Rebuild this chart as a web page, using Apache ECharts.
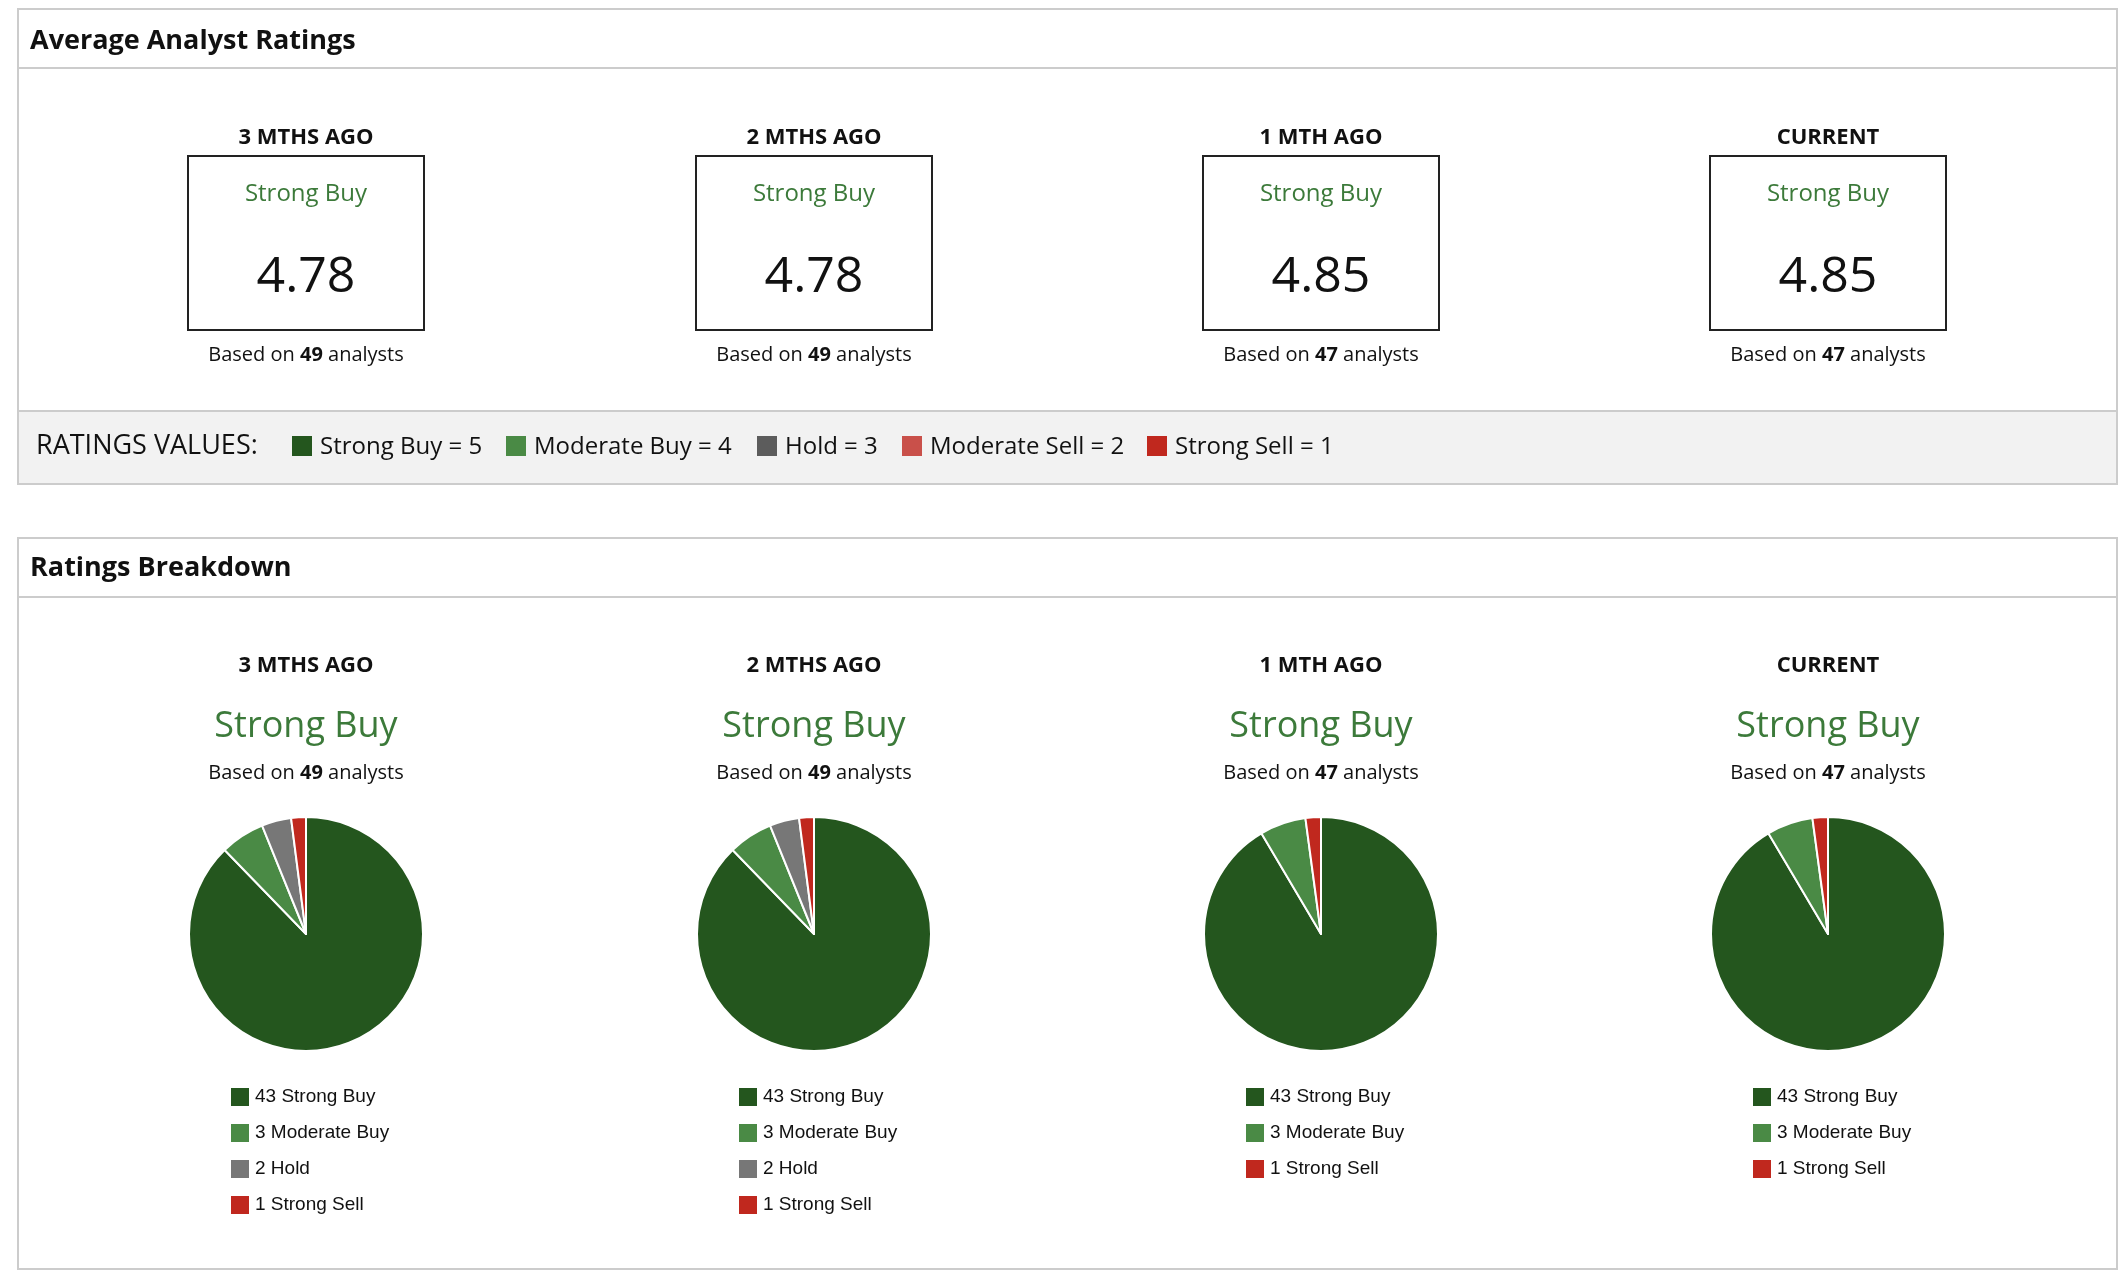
<!DOCTYPE html>
<html>
<head>
<meta charset="utf-8">
<script src="https://cdn.jsdelivr.net/npm/echarts@6/dist/echarts.min.js"></script>
<style>
  html, body { margin: 0; padding: 0; background: #fff; }
  #chart { width: 2126px; height: 1286px; }
</style>
</head>
<body>
<div id="chart"></div>
<script>
// data
var periods = ['3 MTHS AGO', '2 MTHS AGO', '1 MTH AGO', 'CURRENT'];
var avgRating = ['4.78', '4.78', '4.85', '4.85'];
var ratingLabel = ['Strong Buy', 'Strong Buy', 'Strong Buy', 'Strong Buy'];
var analysts = [49, 49, 47, 47];
var strongBuy = [43, 43, 43, 43];
var moderateBuy = [3, 3, 3, 3];
var hold = [2, 2, 0, 0];
var strongSell = [1, 1, 1, 1];
var scaleNames = ['Strong Buy = 5', 'Moderate Buy = 4', 'Hold = 3', 'Moderate Sell = 2', 'Strong Sell = 1'];
var scaleColors = ['#24561e', '#4a8a45', '#5c5c5c', '#c9504a', '#c0281e'];

var C_SB = '#24561e', C_MB = '#4a8a45', C_H = '#777777', C_SS = '#c0281e';
var green = '#3c7a3a';
var font = '"Open Sans", "Noto Sans", sans-serif';
var centers = [306, 814, 1321, 1828];

var chart = echarts.init(document.getElementById('chart'));
var graphic = [];

function txt(x, y, s, size, opts) {
  opts = opts || {};
  graphic.push({
    type: 'text', x: x, y: y,
    style: {
      text: s, fontSize: size, fontFamily: opts.family || font,
      fontWeight: opts.bold ? 'bold' : 'normal', fill: opts.color || '#111',
      align: opts.align || 'center', verticalAlign: 'middle', rich: opts.rich
    }
  });
}

// panel 1
graphic.push({ type: 'rect', shape: { x: 18, y: 9, width: 2099, height: 475 },
  style: { fill: '#fff', stroke: '#cccccc', lineWidth: 2 } });
graphic.push({ type: 'rect', shape: { x: 19, y: 411, width: 2097, height: 72 },
  style: { fill: '#f2f2f2' } });
graphic.push({ type: 'line', shape: { x1: 18, y1: 68, x2: 2117, y2: 68 }, style: { stroke: '#cccccc', lineWidth: 2 } });
graphic.push({ type: 'line', shape: { x1: 18, y1: 411, x2: 2117, y2: 411 }, style: { stroke: '#cccccc', lineWidth: 2 } });
txt(30, 41, 'Average Analyst Ratings', 27, { bold: true, align: 'left' });

// panel 2
graphic.push({ type: 'rect', shape: { x: 18, y: 538, width: 2099, height: 731 },
  style: { fill: '#fff', stroke: '#cccccc', lineWidth: 2 } });
graphic.push({ type: 'line', shape: { x1: 18, y1: 597, x2: 2117, y2: 597 }, style: { stroke: '#cccccc', lineWidth: 2 } });
txt(30, 568, 'Ratings Breakdown', 27, { bold: true, align: 'left' });

var basedRich = { b: { fontWeight: 'bold', fontSize: 20, fontFamily: font, fill: '#111' } };
periods.forEach(function (p, i) {
  var cx = centers[i];
  txt(cx, 138, p, 22, { bold: true });
  graphic.push({ type: 'rect', shape: { x: cx - 118, y: 156, width: 236, height: 174 },
    style: { fill: '#fff', stroke: '#222', lineWidth: 2 } });
  txt(cx, 194, ratingLabel[i], 24, { color: green });
  txt(cx, 278, avgRating[i], 50);
  txt(cx, 355, 'Based on {b|' + analysts[i] + '} analysts', 20, { rich: basedRich });
  txt(cx, 666, p, 22, { bold: true });
  txt(cx, 727, ratingLabel[i], 36, { color: green });
  txt(cx, 773, 'Based on {b|' + analysts[i] + '} analysts', 20, { rich: basedRich });
});

// ratings values band
txt(36, 446, 'RATINGS VALUES:', 27, { align: 'left' });
var scaleX = [292, 506, 757, 902, 1147];
scaleNames.forEach(function (n, i) {
  graphic.push({ type: 'rect', shape: { x: scaleX[i], y: 436, width: 20, height: 20 }, style: { fill: scaleColors[i] } });
  txt(scaleX[i] + 28, 447, n, 24, { align: 'left' });
});

var series = [], legends = [];
periods.forEach(function (p, i) {
  var items = [];
  if (strongBuy[i]) items.push({ name: strongBuy[i] + ' Strong Buy', value: strongBuy[i], itemStyle: { color: C_SB } });
  if (moderateBuy[i]) items.push({ name: moderateBuy[i] + ' Moderate Buy', value: moderateBuy[i], itemStyle: { color: C_MB } });
  if (hold[i]) items.push({ name: hold[i] + ' Hold', value: hold[i], itemStyle: { color: C_H } });
  if (strongSell[i]) items.push({ name: strongSell[i] + ' Strong Sell', value: strongSell[i], itemStyle: { color: C_SS } });
  series.push({
    type: 'pie', center: [centers[i], 934], radius: [0, 117], startAngle: 90, clockwise: true,
    label: { show: false }, labelLine: { show: false }, silent: true,
    itemStyle: { borderColor: '#fff', borderWidth: 2 },
    data: items
  });
  legends.push({
    orient: 'vertical', left: centers[i] - 82, top: 1081, itemGap: 14,
    itemWidth: 20, itemHeight: 20, icon: 'rect',
    textStyle: { fontSize: 19, fontFamily: '"Liberation Sans", Arial, sans-serif', color: '#111' },
    data: items.map(function (d) { return d.name; }),
    selectedMode: false
  });
});

chart.setOption({
  animation: false,
  legend: legends,
  series: series,
  graphic: graphic
});
</script>
</body>
</html>
